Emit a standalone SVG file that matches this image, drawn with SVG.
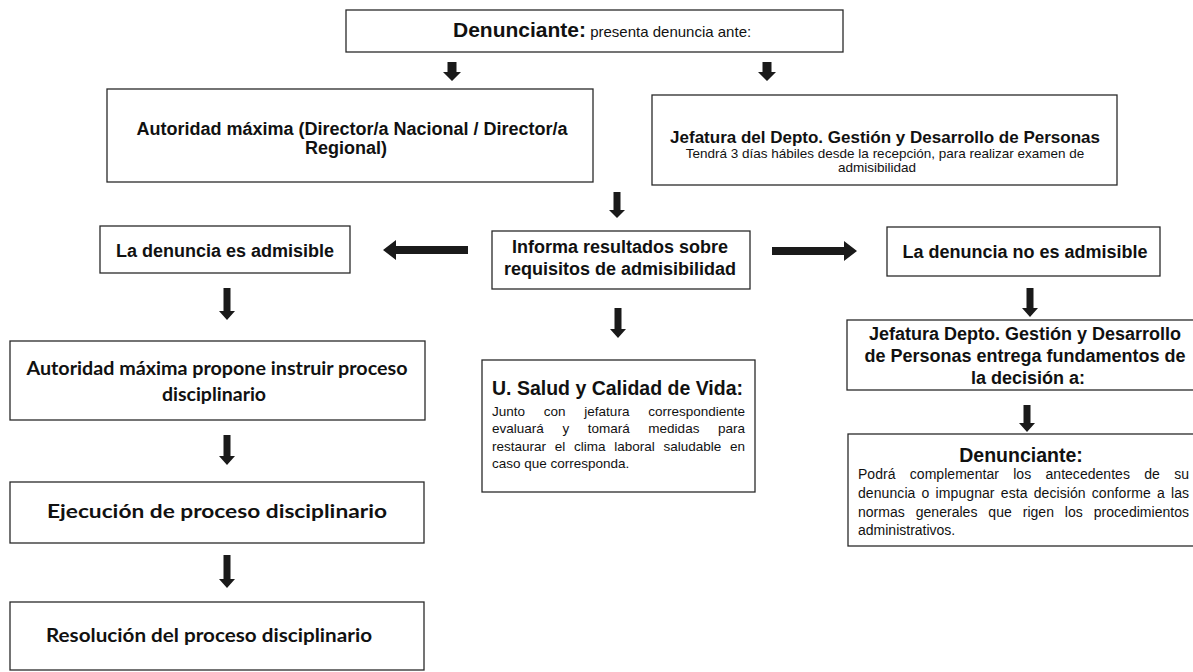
<svg xmlns="http://www.w3.org/2000/svg" width="1193" height="672" viewBox="0 0 1193 672">
<style>
.box{fill:#fff;stroke:#2a2a2a;stroke-width:1.3}
.a{font-family:"Liberation Sans",Arial,sans-serif;fill:#111}
.b{font-weight:bold}
.c{font-family:Lato,"Open Sans",sans-serif;font-weight:bold;fill:#111;text-anchor:middle}
.m{text-anchor:middle}
.arr{fill:#1a1a1a}
</style>
<rect width="1193" height="672" fill="#fff"/>
<g id="connectors" class="arr">
<path d="M447.5,62 H456.5 V72 H461 L452,81 L443,72 H447.5 Z"/>
<path d="M762.5,62 H771.5 V72 H776 L767,81 L758,72 H762.5 Z"/>
<path d="M613.5,192 H620.5 V210 H625 L617,218 L609,210 H613.5 Z"/>
<path d="M468,246 V254 H396 V260 L383,250 L396,240 V246 Z"/>
<path d="M772,247 V255 H844 V261 L857,251 L844,241 V247 Z"/>
<path d="M223.5,288 H230.5 V311 H235 L227,320 L219,311 H223.5 Z"/>
<path d="M614.5,308 H621.5 V329 H626 L618,338 L610,329 H614.5 Z"/>
<path d="M1026.5,288 H1033.5 V308 H1038 L1030,317 L1022,308 H1026.5 Z"/>
<path d="M223.5,435 H230.5 V456 H235 L227,465 L219,456 H223.5 Z"/>
<path d="M223.5,555 H230.5 V579 H235 L227,588 L219,579 H223.5 Z"/>
<path d="M1023.5,405 H1030.5 V423 H1035 L1027,432 L1019,423 H1023.5 Z"/>
</g>
<g id="n-denunciante">
<rect class="box" x="346" y="10" width="497" height="42"/>
<text class="a" x="453" y="37"><tspan class="b" font-size="21">Denunciante:</tspan><tspan font-size="15"> presenta denuncia ante:</tspan></text>
</g>
<g id="n-autoridad">
<rect class="box" x="107" y="89" width="486" height="93"/>
<text class="a b m" font-size="18" x="352" y="135">Autoridad máxima (Director/a Nacional / Director/a</text>
<text class="a b m" font-size="18" x="346" y="154">Regional)</text>
</g>
<g id="n-jefatura">
<rect class="box" x="652" y="95" width="465" height="90"/>
<text class="a b m" font-size="17" x="885" y="143">Jefatura del Depto. Gestión y Desarrollo de Personas</text>
<text class="a m" font-size="13.5" x="885" y="158">Tendrá 3 días hábiles desde la recepción, para realizar examen de</text>
<text class="a m" font-size="13.5" x="877" y="172">admisibilidad</text>
</g>
<g id="n-informa">
<rect class="box" x="492" y="231" width="258" height="58"/>
<text class="a b m" font-size="18" x="620" y="253">Informa resultados sobre</text>
<text class="a b m" font-size="18" x="620" y="275">requisitos de admisibilidad</text>
</g>
<g id="n-admisible">
<rect class="box" x="100" y="226" width="250" height="47"/>
<text class="a b m" font-size="18" x="225" y="257">La denuncia es admisible</text>
</g>
<g id="n-noadmisible">
<rect class="box" x="887" y="227" width="273" height="49"/>
<text class="a b m" font-size="18" x="1025" y="258">La denuncia no es admisible</text>
</g>
<g id="n-propone">
<rect class="box" x="10" y="341" width="415" height="79"/>
<text class="c" font-size="19.5" x="217" y="375" textLength="381" lengthAdjust="spacingAndGlyphs">Autoridad máxima propone instruir proceso</text>
<text class="c" font-size="19.5" x="214" y="401">disciplinario</text>
</g>
<g id="n-ejecucion">
<rect class="box" x="10" y="482" width="414" height="61"/>
<text class="c" font-size="19.5" x="217" y="518" textLength="340" lengthAdjust="spacingAndGlyphs">Ejecución de proceso disciplinario</text>
</g>
<g id="n-resolucion">
<rect class="box" x="10" y="602" width="414" height="68"/>
<text class="c" font-size="19.5" x="209" y="642" textLength="326" lengthAdjust="spacingAndGlyphs">Resolución del proceso disciplinario</text>
</g>
<g id="n-salud">
<rect class="box" x="482" y="360" width="273" height="132"/>
<text class="a b" font-size="19.5" x="492" y="395" textLength="251" lengthAdjust="spacingAndGlyphs">U. Salud y Calidad de Vida:</text>
<text class="a" font-size="13.5" x="492" y="416" word-spacing="15" textLength="253" lengthAdjust="spacing">Junto con jefatura correspondiente</text>
<text class="a" font-size="13.5" x="492" y="433" word-spacing="14.8" textLength="253" lengthAdjust="spacing">evaluará y tomará medidas para</text>
<text class="a" font-size="13.5" x="492" y="451" word-spacing="5" textLength="253" lengthAdjust="spacing">restaurar el clima laboral saludable en</text>
<text class="a" font-size="13.5" x="492" y="468">caso que corresponda.</text>
</g>
<g id="n-jefdepto">
<rect class="box" x="847" y="320" width="400" height="70"/>
<text class="a b m" font-size="18" x="1025" y="340">Jefatura Depto. Gestión y Desarrollo</text>
<text class="a b m" font-size="18" x="1025" y="362">de Personas entrega fundamentos de</text>
<text class="a b m" font-size="18" x="1028" y="384">la decisión a:</text>
</g>
<g id="n-denunciante2">
<rect class="box" x="848" y="434" width="400" height="112"/>
<text class="a b m" font-size="19.5" x="1021" y="462">Denunciante:</text>
<text class="a" font-size="14" x="858" y="479" word-spacing="10.4" textLength="331" lengthAdjust="spacing">Podrá complementar los antecedentes de su</text>
<text class="a" font-size="14" x="858" y="498" word-spacing="2.2" textLength="331" lengthAdjust="spacing">denuncia o impugnar esta decisión conforme a las</text>
<text class="a" font-size="14" x="858" y="517" word-spacing="7" textLength="331" lengthAdjust="spacing">normas generales que rigen los procedimientos</text>
<text class="a" font-size="14" x="858" y="535">administrativos.</text>
</g>
</svg>
